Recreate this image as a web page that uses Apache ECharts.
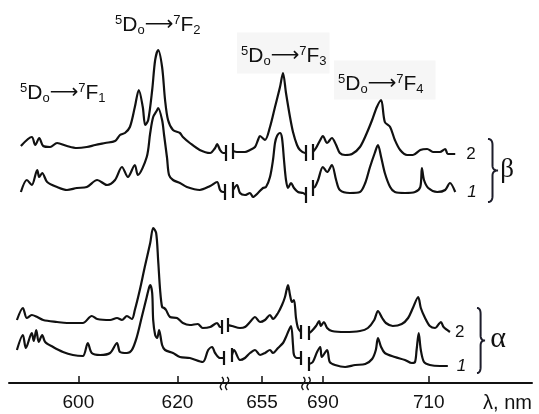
<!DOCTYPE html>
<html>
<head>
<meta charset="utf-8">
<script src="https://cdn.jsdelivr.net/npm/echarts@6/dist/echarts.min.js"></script>
<style>
  html, body { margin: 0; padding: 0; background: #fff; }
  #chart { width: 539px; height: 414px; }
</style>
</head>
<body>
<div id="chart"></div>
<script>
// luminescence spectra, [wavelength nm, intensity a.u.] (curves stacked with offsets)
const beta2Seg1 = [[588.4,237],[590.6,246],[591.3,238],[592.1,245],[592.9,237],[594.3,236],[595.7,240],[597.7,237],[599.7,235],[601.7,236],[603.4,238],[605.4,240],[607.4,242],[608.4,248],[609.4,250],[610.4,256],[611.4,276],[612.2,293],[613.0,276],[613.5,258],[614.1,263],[614.9,293],[615.5,323],[616.1,333],[616.9,316],[617.5,283],[618.1,263],[619.1,253],[620.5,250],[621.1,246],[622.5,240],[624.5,233],[626.6,230],[627.6,235],[628.0,239],[628.6,233],[629.2,230],[629.7,230]];
const beta2Seg2 = [[649.2,232],[650.0,231],[651.6,231],[652.6,233],[653.6,236],[654.2,243],[654.6,247],[655.6,243],[656.6,256],[657.6,276],[658.6,296],[659.2,310],[659.8,290],[660.6,266],[661.2,251],[662.0,238],[662.6,233],[663.6,230],[663.8,230]];
const beta2Seg3 = [[688.1,231],[688.7,235],[689.5,243],[690.0,247],[690.8,240],[691.7,245],[692.5,238],[693.2,230],[694.2,228],[695.5,229],[697.0,236],[698.3,250],[699.3,263],[700.2,276],[701.0,283],[701.7,261],[702.7,256],[703.6,243],[704.6,233],[705.9,228],[707.0,228],[708.4,233],[709.7,234],[710.8,231],[712.1,231],[713.1,234],[713.6,229],[715.0,229]];

const beta1Seg1 = [[588.4,191],[589.6,203],[590.6,198],[591.7,213],[592.1,206],[592.7,210],[593.7,201],[595.7,196],[597.7,193],[599.7,195],[601.7,196],[603.8,203],[605.8,198],[607.4,203],[608.8,216],[610.0,206],[611.4,218],[612.0,208],[613.8,226],[614.5,250],[615.1,266],[615.9,273],[616.1,275],[616.9,263],[617.3,248],[617.9,225],[618.3,208],[619.1,203],[620.5,200],[621.9,196],[624.5,193],[626.6,197],[628.0,201],[628.6,193],[629.2,191],[629.6,191]];
const beta1Seg2 = [[649.2,193],[650.0,198],[650.6,190],[651.6,188],[652.6,190],[653.2,186],[654.2,190],[655.2,195],[655.8,196],[656.6,206],[657.2,223],[657.6,240],[658.0,247],[658.6,250],[659.0,245],[659.4,223],[659.8,203],[660.2,195],[660.8,200],[661.4,195],[662.2,191],[663.2,190],[663.8,188]];
const beta1Seg3 = [[688.1,195],[688.5,196],[689.1,203],[690.0,216],[690.8,211],[691.7,218],[692.5,203],[693.2,193],[695.1,190],[697.0,191],[698.0,200],[698.9,216],[699.8,230],[700.4,238],[701.0,226],[701.7,210],[702.7,196],[703.6,191],[705.5,190],[707.4,191],[708.4,196],[708.7,215],[709.1,203],[709.9,195],[711.6,191],[713.1,193],[714.0,200],[715.0,191]];

const alpha2Seg1 = [[587.6,63],[588.8,75],[589.6,65],[590.6,68],[591.7,66],[592.9,63],[595.7,61],[597.7,60],[600.9,60],[602.7,67],[603.8,64],[606.4,63],[607.8,65],[608.8,63],[609.8,67],[610.8,64],[611.4,73],[612.4,93],[613.4,116],[614.5,140],[615.1,155],[615.7,150],[616.1,123],[616.5,93],[616.9,76],[617.3,75],[617.7,73],[618.5,66],[619.9,65],[621.1,60],[622.5,58],[624.1,59],[625.1,55],[626.6,56],[628.0,60],[628.6,56],[629.0,56]];
const alpha2Seg2 = [[648.2,58],[649.0,57],[650.6,55],[651.6,56],[652.6,61],[653.6,66],[654.6,61],[655.6,63],[656.6,68],[657.2,64],[658.2,70],[659.0,78],[659.6,86],[660.2,98],[660.6,88],[661.0,81],[661.4,83],[661.8,65],[662.2,55],[662.8,51]];
const alpha2Seg3 = [[687.4,50],[687.9,52],[688.7,57],[689.3,62],[689.6,57],[690.2,61],[690.8,55],[691.7,52],[694.2,51],[697.0,52],[698.5,55],[699.7,63],[700.4,72],[701.2,65],[701.9,60],[703.2,57],[704.9,59],[706.1,65],[707.0,75],[708.0,86],[708.5,75],[709.3,65],[710.2,57],[711.2,55],[711.9,59],[712.3,61],[712.8,56],[714.0,51]];

const alpha1Seg1 = [[587.6,33],[588.8,48],[589.4,35],[590.6,50],[591.0,42],[591.5,53],[592.0,41],[592.7,48],[593.3,41],[594.9,36],[596.9,31],[598.9,28],[600.9,27],[601.9,40],[602.7,30],[604.4,28],[606.4,30],[607.8,40],[608.4,31],[609.8,30],[610.8,33],[611.8,46],[612.8,66],[613.8,86],[614.3,96],[614.5,98],[614.9,90],[615.1,63],[615.5,48],[615.9,45],[616.3,53],[616.9,38],[617.5,33],[619.1,30],[620.5,26],[622.5,25],[625.1,21],[626.2,33],[627.0,36],[627.6,30],[628.6,25],[629.4,25]];
const alpha1Seg2 = [[649.0,28],[649.4,33],[650.6,23],[651.6,25],[652.6,30],[653.6,33],[654.6,28],[655.6,30],[656.6,33],[657.2,30],[658.2,35],[659.2,40],[659.8,46],[660.8,57],[661.2,38],[661.4,28],[662.0,25],[662.8,25]];
const alpha1Seg3 = [[687.4,19],[688.1,21],[688.9,31],[689.5,36],[689.8,26],[690.8,33],[691.3,21],[692.3,18],[694.2,16],[696.1,18],[698.0,19],[699.3,24],[700.0,33],[700.4,45],[701.0,36],[701.7,30],[703.6,26],[705.5,23],[706.8,20],[707.4,21],[707.7,33],[708.1,50],[708.5,33],[709.1,21],[710.2,18],[712.1,17],[713.6,17]];

// broken wavelength axis: three pieces
const axisRanges = [[586, 630], [648, 664], [687, 729.5]];
const tickLabels = [[600, 620], [655], [690, 710]];
const curveLabels = ['2', '1', '2', '1'];
const transitions = ['1', '2', '3', '4'];
const phaseNames = ['β', 'α'];

const ink = '#111';
const chart = echarts.init(document.getElementById('chart'));

const curves = [
  { label: curveLabels[0], bar: 8, dist: 11, segs: [beta2Seg1, beta2Seg2, beta2Seg3] },
  { label: curveLabels[1], bar: 8, dist: 12, segs: [beta1Seg1, beta1Seg2, beta1Seg3] },
  { label: curveLabels[2], bar: 7, dist: 5, segs: [alpha2Seg1, alpha2Seg2, alpha2Seg3] },
  { label: curveLabels[3], bar: 7, dist: 9, segs: [alpha1Seg1, alpha1Seg2, alpha1Seg3] }
];

const series = [];
curves.forEach((c) => {
  c.segs.forEach((seg, si) => {
    // the "||" marks where each curve is cut
    const ends = [];
    if (si > 0) ends.push(seg[0]);
    if (si < 2) ends.push(seg[seg.length - 1]);
    series.push({
      type: 'line',
      xAxisIndex: si,
      yAxisIndex: si,
      data: seg,
      showSymbol: false,
      smooth: 0.3,
      silent: true,
      animation: false,
      lineStyle: { color: ink, width: 2.2 },
      markLine: {
        silent: true,
        animation: false,
        symbol: ['none', 'none'],
        label: { show: false },
        lineStyle: { color: ink, width: 2.2, type: 'solid' },
        data: ends.map(p => [{ coord: [p[0], p[1] - c.bar] }, { coord: [p[0], p[1] + c.bar] }])
      },
      endLabel: si === 2 ? {
        show: true,
        formatter: c.label,
        distance: c.dist,
        color: ink,
        fontSize: 17,
        fontFamily: 'Liberation Sans',
        fontStyle: c.label === '1' ? 'italic' : 'normal'
      } : { show: false }
    });
  });
});

const gridLeft = [9, 227, 307];
const gridWidth = [218, 80, 225];

const grids = gridLeft.map((l, i) => ({
  left: l, width: gridWidth[i], top: 0, bottom: 31, outerBoundsMode: 'none'
}));

const xAxes = axisRanges.map((r, i) => Object.assign({
  type: 'value',
  gridIndex: i,
  min: r[0],
  max: r[1],
  axisLine: { show: true, onZero: false, lineStyle: { color: ink, width: 2 } },
  axisTick: { show: true, inside: true, length: 7, customValues: tickLabels[i], lineStyle: { color: ink, width: 1.5 } },
  axisLabel: { show: true, customValues: tickLabels[i], margin: 10, color: ink, fontSize: 19, fontFamily: 'Liberation Sans' },
  splitLine: { show: false }
}, i === 2 ? {
  name: 'λ, nm',
  nameLocation: 'end',
  nameGap: 0,
  nameTextStyle: { color: ink, fontSize: 20, fontFamily: 'Liberation Sans', align: 'right', verticalAlign: 'top', padding: [10, 0, 0, 0] }
} : {}));

const yAxes = axisRanges.map((r, i) => ({ type: 'value', gridIndex: i, min: 0, max: 383, show: false }));

function transitionText(j) {
  return '{s|5}{m|D}{b|o}{a|⟶}{s|7}{m|F}{b|' + j + '}';
}
const rich = {
  m: { fontSize: 21, fontFamily: 'Liberation Sans', lineHeight: 23, fill: ink },
  a: { fontSize: 20, fontFamily: 'DejaVu Sans', lineHeight: 23, fill: ink },
  s: { fontSize: 13, fontFamily: 'Liberation Sans', lineHeight: 14, verticalAlign: 'top', fill: ink },
  b: { fontSize: 13, fontFamily: 'Liberation Sans', lineHeight: 14, verticalAlign: 'bottom', fill: ink }
};
const titlePos = [[20, 93, null], [115, 25, null], [237, 53, [12, 3, 6, 4]], [334, 80, [12, 12, 4, 4]]];

function bracePoints(x, y1, y2, w) {
  const ym = (y1 + y2) / 2, xc = x + w * 0.45, xe = x + w;
  const pts = [];
  const quad = (p0, p1, p2) => {
    for (let k = 0; k <= 8; k++) {
      const t = k / 8;
      pts.push([(1 - t) * (1 - t) * p0[0] + 2 * (1 - t) * t * p1[0] + t * t * p2[0],
                (1 - t) * (1 - t) * p0[1] + 2 * (1 - t) * t * p1[1] + t * t * p2[1]]);
    }
  };
  quad([x, y1], [xc, y1], [xc, y1 + 6]);
  quad([xc, ym - 5], [xc, ym], [xe, ym]);
  quad([xe, ym], [xc, ym], [xc, ym + 5]);
  quad([xc, y2 - 6], [xc, y2], [x, y2]);
  return pts;
}

// wavy stroke of an axis-break mark
function wavePoints(x, y1, y2) {
  const pts = [];
  for (let k = 0; k <= 12; k++) {
    const t = k / 12;
    pts.push([x + 1.6 * Math.sin(t * 2 * Math.PI), y1 + (y2 - y1) * t]);
  }
  return pts;
}

const graphic = [];
titlePos.forEach((p, i) => {
  const style = { text: transitionText(transitions[i]), rich: rich, x: p[0], y: p[1], textAlign: 'left', textVerticalAlign: 'middle', fill: ink };
  if (p[2]) { style.backgroundColor = '#f6f6f6'; style.padding = p[2]; }
  graphic.push({ type: 'text', silent: true, style: style });
});
// brackets with phase names
graphic.push({ type: 'polyline', silent: true, shape: { points: bracePoints(488, 139, 202, 10) }, style: { fill: null, stroke: '#1d1d2b', lineWidth: 2 } });
graphic.push({ type: 'polyline', silent: true, shape: { points: bracePoints(477, 308, 373, 8) }, style: { fill: null, stroke: '#1d1d2b', lineWidth: 2 } });
graphic.push({ type: 'text', silent: true, style: { text: phaseNames[0], x: 507, y: 170, textAlign: 'center', textVerticalAlign: 'middle', fontSize: 27, fontFamily: 'Liberation Serif', fill: ink } });
graphic.push({ type: 'text', silent: true, style: { text: phaseNames[1], x: 498, y: 339, textAlign: 'center', textVerticalAlign: 'middle', fontSize: 30, fontFamily: 'Liberation Serif', fill: ink } });
// axis break marks
[224.5, 306].forEach((x) => {
  [-2.6, 2.6].forEach((dx) => {
    graphic.push({ type: 'polyline', silent: true, shape: { points: wavePoints(x + dx, 377, 390), smooth: 0.4 },
      style: { fill: null, stroke: ink, lineWidth: 1.4 } });
  });
});

chart.setOption({
  animation: false,
  backgroundColor: '#fff',
  grid: grids,
  xAxis: xAxes,
  yAxis: yAxes,
  series: series,
  graphic: graphic
});
</script>
</body>
</html>
